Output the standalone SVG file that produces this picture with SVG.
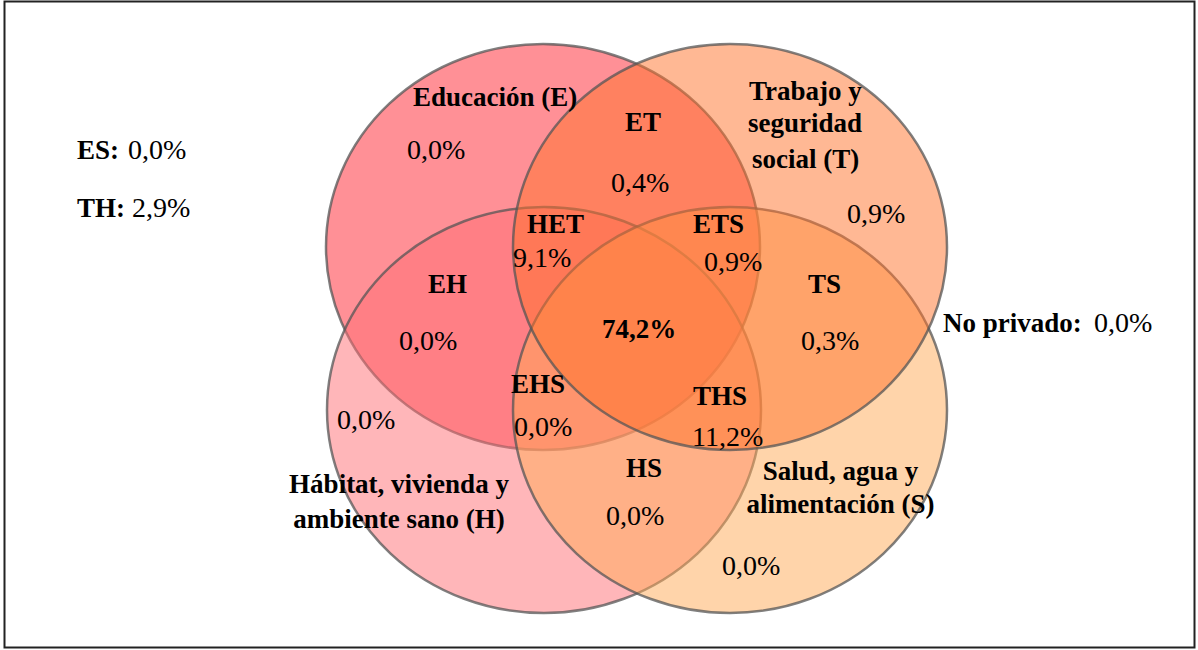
<svg xmlns="http://www.w3.org/2000/svg" width="1198" height="650" viewBox="0 0 1198 650">
<style>
.c{stroke:#555;stroke-width:2.5;stroke-opacity:0.75;fill-opacity:0.5}
text{font-family:"Liberation Serif","Times New Roman",serif;fill:#000}
.b{font-weight:bold;font-size:27px}
.r{font-size:28px}
</style>
<rect x="4.5" y="1.5" width="1190" height="646" fill="#fff" stroke="#222" stroke-width="2"/>
<g id="circles">
<g id="E"><ellipse class="c" cx="543" cy="247" rx="217" ry="203" fill="#ff212d"/></g>
<g id="H"><ellipse class="c" cx="544" cy="410" rx="217" ry="203" fill="#ff6d73"/></g>
<g id="S"><ellipse class="c" cx="730" cy="410" rx="217" ry="203" fill="#ffa955"/></g>
<g id="T"><ellipse class="c" cx="730" cy="247" rx="217" ry="203" fill="#ff722a"/></g>
</g>
<g id="connectors"></g>
<g id="labels">
<text class="b" x="413" y="106">Educación (E)</text>
<text class="r" x="407" y="159">0,0%</text>
<text class="b" x="625" y="131">ET</text>
<text class="r" x="611" y="192">0,4%</text>
<text class="b" x="527" y="233">HET</text>
<text class="r" x="513" y="267">9,1%</text>
<text class="b" x="693" y="233">ETS</text>
<text class="r" x="704" y="271">0,9%</text>
<text class="b" x="749" y="100">Trabajo y</text>
<text class="b" x="748" y="132">seguridad</text>
<text class="b" x="752" y="168">social (T)</text>
<text class="r" x="847" y="223">0,9%</text>
<text class="b" x="428" y="293">EH</text>
<text class="r" x="399" y="350">0,0%</text>
<text class="b" x="602" y="338">74,2%</text>
<text class="b" x="808" y="293">TS</text>
<text class="r" x="801" y="350">0,3%</text>
<text class="b" x="511" y="393">EHS</text>
<text class="r" x="514" y="436">0,0%</text>
<text class="r" x="337" y="429">0,0%</text>
<text class="b" x="693" y="405">THS</text>
<text class="r" x="692" y="446">11,2%</text>
<text class="b" x="626" y="477">HS</text>
<text class="r" x="606" y="525">0,0%</text>
<text class="b" x="399" y="493" text-anchor="middle">Hábitat, vivienda y</text>
<text class="b" x="399" y="528" text-anchor="middle">ambiente sano (H)</text>
<text class="b" x="840.5" y="480" text-anchor="middle">Salud, agua y</text>
<text class="b" x="840.5" y="513" text-anchor="middle">alimentación (S)</text>
<text class="r" x="722" y="575">0,0%</text>
<text x="943" y="332"><tspan class="b">No privado:</tspan><tspan class="r" x="1094">0,0%</tspan></text>
<text x="77" y="159"><tspan class="b">ES:</tspan><tspan class="r" x="128">0,0%</tspan></text>
<text x="77" y="217"><tspan class="b">TH:</tspan><tspan class="r" x="132">2,9%</tspan></text>
</g>
</svg>
